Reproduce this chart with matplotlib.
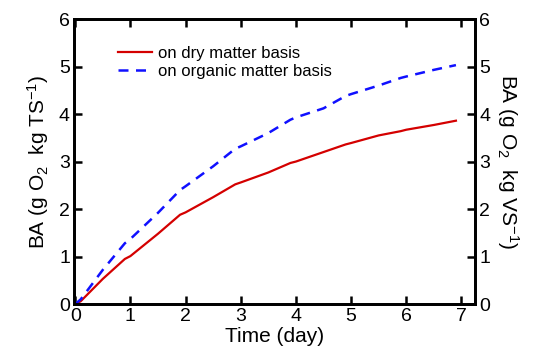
import numpy as np
import matplotlib
matplotlib.use('Agg')
import matplotlib.pyplot as plt

plt.rcParams['font.family'] = ['Liberation Sans', 'DejaVu Sans']
plt.rcParams['mathtext.default'] = 'regular'

# 数据
t_dry = [0, 0.1, 0.5, 0.9, 1.0, 1.5, 1.9, 2.0, 2.5, 2.9, 3.0, 3.5, 3.9, 4.0,
         4.5, 4.9, 5.0, 5.5, 5.9, 6.0, 6.5, 6.9]
ba_dry = [0.0, 0.06, 0.53, 0.95, 1.01, 1.48, 1.88, 1.93, 2.25, 2.52, 2.56, 2.77,
          2.97, 3.0, 3.2, 3.36, 3.39, 3.55, 3.64, 3.67, 3.77, 3.86]
t_org = [0, 0.1, 0.5, 0.9, 1.0, 1.5, 1.9, 2.0, 2.5, 2.9, 3.0, 3.5, 3.9, 4.0,
         4.5, 4.9, 5.0, 5.5, 5.9, 6.0, 6.5, 6.9]
ba_org = [0.0, 0.1, 0.72, 1.28, 1.37, 1.92, 2.4, 2.48, 2.9, 3.27, 3.32, 3.6,
          3.88, 3.93, 4.12, 4.38, 4.42, 4.6, 4.76, 4.79, 4.93, 5.03]

fig = plt.figure(figsize=(5.37, 3.59), dpi=100)
ax = fig.add_axes([0.138, 0.153, 0.747, 0.794])
ax2 = ax.twinx()

ax.plot(t_dry, ba_dry, color='#d40000', lw=1.6, label='on dry matter basis')
ax.plot(t_org, ba_org, color='#1010ff', lw=1.8, ls=(0, (4, 3)), label='on organic matter basis')

ax.set_xlim(-0.02, 7.25)
ax.set_ylim(0, 6)
ax2.set_ylim(0, 6)
ax.set_xticks(range(8))
ax.set_yticks(range(7))
ax2.set_yticks(range(7))

for a in (ax, ax2):
    for s in a.spines.values():
        s.set_linewidth(2)
ax.tick_params(direction='in', length=6, width=1.8, labelsize=14, top=True, right=False, pad=3)
ax2.tick_params(direction='in', length=6, width=1.8, labelsize=14, pad=3)

ax.set_xlabel('Time (day)', fontsize=15, labelpad=1)
ax.set_ylabel('BA (g O$_2$  kg TS$^{-1}$)', fontsize=15, labelpad=6)
ax2.set_ylabel('BA (g O$_2$  kg VS$^{-1}$)', fontsize=15, rotation=270, labelpad=22)

ax.legend(loc='upper left', bbox_to_anchor=(0.085, 0.94), frameon=False, fontsize=12,
          handlelength=2.0, handletextpad=0.4, labelspacing=0.15, borderaxespad=0.2)

fig.savefig('out.png', dpi=100)
